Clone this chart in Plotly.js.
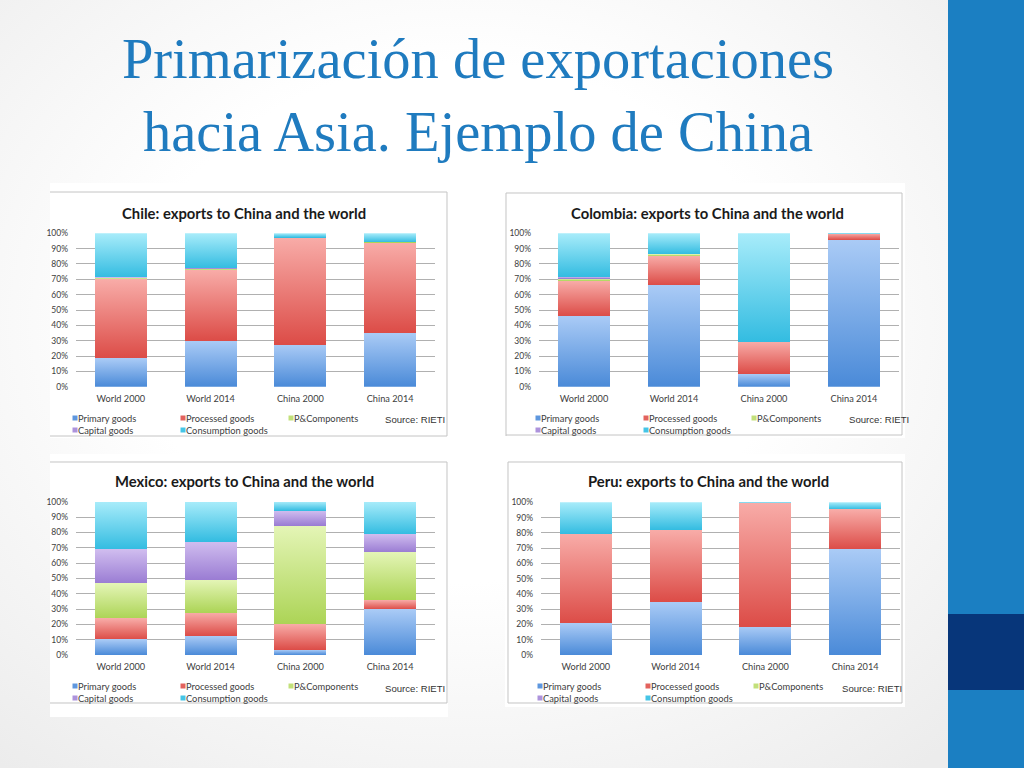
<!DOCTYPE html>
<html>
<head>
<meta charset="utf-8">
<script src="https://cdn.plot.ly/plotly-3.0.1.min.js"></script>
<style>
html,body{margin:0;padding:0;width:1024px;height:768px;overflow:hidden;}
body{background:radial-gradient(ellipse 70% 75% at 45% 42%, #ffffff 45%, #ececec 100%);}
#chart{width:1024px;height:768px;}
</style>
</head>
<body>
<div id="chart"></div>
<script>
// ---------------- DATA ----------------
const categories = ['World 2000', 'World 2014', 'China 2000', 'China 2014'];
const seriesNames = ['Primary goods', 'Processed goods', 'P&Components', 'Capital goods', 'Consumption goods'];
const yTickVals = [0, 10, 20, 30, 40, 50, 60, 70, 80, 90, 100];
const yTickLabels = ['0%', '10%', '20%', '30%', '40%', '50%', '60%', '70%', '80%', '90%', '100%'];

const chilePrimary     = [18.5, 30.0, 27.5, 35.0];
const chileProcessed   = [51.5, 46.0, 69.7, 59.0];
const chilePC          = [1.0, 1.0, 0.0, 0.3];
const chileCapital     = [0.2, 0.2, 0.0, 0.0];
const chileConsumption = [28.8, 22.8, 2.8, 5.7];

const colombiaPrimary     = [46.0, 66.3, 8.3, 95.7];
const colombiaProcessed   = [23.0, 19.0, 21.0, 4.1];
const colombiaPC          = [1.5, 1.0, 0.0, 0.0];
const colombiaCapital     = [1.0, 0.2, 0.0, 0.0];
const colombiaConsumption = [28.5, 13.5, 70.7, 0.2];

const mexicoPrimary     = [10.2, 12.4, 3.3, 29.8];
const mexicoProcessed   = [13.7, 15.2, 16.9, 6.1];
const mexicoPC          = [22.8, 21.3, 64.1, 31.1];
const mexicoCapital     = [22.2, 25.0, 9.8, 11.9];
const mexicoConsumption = [31.1, 26.1, 5.9, 21.1];

const peruPrimary     = [20.7, 34.9, 18.6, 69.2];
const peruProcessed   = [58.6, 46.8, 81.2, 26.2];
const peruPC          = [0.0, 0.2, 0.0, 0.0];
const peruCapital     = [0.0, 0.0, 0.0, 0.0];
const peruConsumption = [20.7, 18.1, 0.2, 4.6];

// ---------------- STYLE / LAYOUT ----------------
const W = 1024, H = 768;
const fx = p => p / W;
const fy = p => 1 - p / H;

const seriesColors = ['#5e97de', '#e3625d', '#c2e07a', '#ad93dc', '#45c5e6'];
const gradTop      = ['#aacbf6', '#f8aca8', '#e4f5b6', '#d0bdef', '#a8ecfa'];
const gradBottom   = ['#4a8ad8', '#dc4c47', '#acd456', '#9a7cd3', '#33bce1'];

const panels = [
  {title: 'Chile: exports to China and the world', data: [chilePrimary, chileProcessed, chilePC, chileCapital, chileConsumption],
   xd: [76, 435], yd: [233.3, 386.7], titleX: 244, titleY: 213, legX: 76, legY: [418, 430], srcX: 383, srcY: 419,
   box: [50, 183, 448, 438], border: 'M50,192 H447 V436 H50'},
  {title: 'Colombia: exports to China and the world', data: [colombiaPrimary, colombiaProcessed, colombiaPC, colombiaCapital, colombiaConsumption],
   xd: [539, 899], yd: [233.3, 386.7], titleX: 707, titleY: 213, legX: 539, legY: [418, 430], srcX: 847, srcY: 419,
   box: [505, 183, 905, 438], border: 'M506,436 V193 H902 V435 H506'},
  {title: 'Mexico: exports to China and the world', data: [mexicoPrimary, mexicoProcessed, mexicoPC, mexicoCapital, mexicoConsumption],
   xd: [76, 435], yd: [501.7, 655], titleX: 244, titleY: 481, legX: 76, legY: [686, 698], srcX: 383, srcY: 688,
   box: [50, 454, 448, 717], border: 'M50,462 H447 V703 H50'},
  {title: 'Peru: exports to China and the world', data: [peruPrimary, peruProcessed, peruPC, peruCapital, peruConsumption],
   xd: [541, 900], yd: [502.3, 655], titleX: 708, titleY: 481, legX: 541, legY: [686, 698], srcX: 840, srcY: 688,
   box: [505, 454, 905, 707], border: 'M508,703 V462 H902 V703 H508'}
];

const labelFamily = 'Lato, "Open Sans", sans-serif';

function toPaperPath(d) {
  return d.replace(/([MHVL])\s*([\d.]+)(?:,([\d.]+))?/g, (m, c, a, b) => {
    if (c === 'H') return 'H' + fx(+a).toFixed(5);
    if (c === 'V') return 'V' + fy(+a).toFixed(5);
    return c + fx(+a).toFixed(5) + ',' + fy(+b).toFixed(5);
  });
}

const traces = [];
const layout = {
  width: W, height: H, autosize: false,
  margin: {l: 0, r: 0, t: 0, b: 0, pad: 0},
  paper_bgcolor: 'rgba(0,0,0,0)',
  plot_bgcolor: 'rgba(0,0,0,0)',
  barmode: 'stack',
  bargap: 0.42,
  showlegend: true,
  title: {
    text: 'Primarización de exportaciones<br>hacia Asia. Ejemplo de China',
    font: {family: '"Liberation Serif", serif', size: 56.5, color: '#1f7bbf'},
    x: fx(478), xanchor: 'center', xref: 'container',
    y: fy(78), yanchor: 'top', yref: 'container'
  },
  shapes: [],
  annotations: []
};

// sidebar
layout.shapes.push({type: 'rect', xref: 'paper', yref: 'paper', x0: fx(948), x1: 1, y0: 0, y1: 1,
  fillcolor: '#1b7fc2', line: {width: 0}, layer: 'below'});
layout.shapes.push({type: 'rect', xref: 'paper', yref: 'paper', x0: fx(948), x1: 1, y0: fy(690), y1: fy(614),
  fillcolor: '#07367a', line: {width: 0}, layer: 'below'});

panels.forEach((p, i) => {
  const n = i === 0 ? '' : String(i + 1);
  const xa = 'x' + n, ya = 'y' + n;
  const leg1 = 'legend' + (i === 0 ? '' : String(2 * i + 1));
  const leg2 = 'legend' + String(2 * i + 2);

  layout.shapes.push({type: 'rect', xref: 'paper', yref: 'paper', x0: fx(p.box[0]), x1: fx(p.box[2]),
    y0: fy(p.box[3]), y1: fy(p.box[1]), fillcolor: '#ffffff', line: {width: 0}, layer: 'below'});
  layout.shapes.push({type: 'path', xref: 'paper', yref: 'paper', path: toPaperPath(p.border),
    line: {color: '#c4c4c4', width: 1}, layer: 'below'});

  p.data.forEach((vals, s) => {
    traces.push({
      type: 'bar', name: seriesNames[s], x: categories, y: vals,
      xaxis: xa, yaxis: ya,
      marker: {color: seriesColors[s], line: {width: 0}},
      legend: s < 3 ? leg1 : leg2,
      hoverinfo: 'x+y+name'
    });
  });

  layout['xaxis' + n] = {
    domain: [fx(p.xd[0]), fx(p.xd[1])], anchor: ya, type: 'category',
    showgrid: false, zeroline: false, showline: false, ticks: '',
    tickfont: {family: labelFamily, size: 9.2, color: '#404040'},
    ticklabelstandoff: 5, fixedrange: true
  };
  layout['yaxis' + n] = {
    domain: [fy(p.yd[1]), fy(p.yd[0])], anchor: xa, range: [0, 100],
    tickmode: 'array', tickvals: yTickVals, ticktext: yTickLabels,
    showgrid: true, gridcolor: '#b0b0b0', gridwidth: 1,
    zeroline: false, showline: false, ticks: '',
    tickfont: {family: labelFamily, size: 8.5, color: '#404040'},
    ticklabelstandoff: 7, fixedrange: true
  };

  const legCommon = {orientation: 'h', xref: 'paper', yref: 'paper', xanchor: 'left', yanchor: 'middle',
    bgcolor: 'rgba(0,0,0,0)', borderwidth: 0, itemwidth: 30, entrywidth: 63, entrywidthmode: 'pixels',
    font: {family: labelFamily, size: 9.3, color: '#404040'},
    itemclick: false, itemdoubleclick: false, traceorder: 'normal'};
  layout[leg1] = Object.assign({}, legCommon, {x: fx(p.legX - 38), y: fy(p.legY[0])});
  layout[leg2] = Object.assign({}, legCommon, {x: fx(p.legX - 38), y: fy(p.legY[1])});

  layout.annotations.push({text: '<b>' + p.title + '</b>', xref: 'paper', yref: 'paper',
    x: fx(p.titleX), y: fy(p.titleY), xanchor: 'center', yanchor: 'middle', showarrow: false,
    font: {family: labelFamily, size: 14.8, color: '#1a1a1a'}});
  layout.annotations.push({text: 'Source: RIETI', xref: 'paper', yref: 'paper',
    x: fx(p.srcX), y: fy(p.srcY), xanchor: 'left', yanchor: 'middle', showarrow: false,
    font: {family: '"Liberation Sans", Arial, sans-serif', size: 9.6, color: '#333333'}});
});

function norm(c) { return c.replace(/\s+/g, '').toLowerCase(); }
function hexToRgb(h) {
  const v = parseInt(h.slice(1), 16);
  return 'rgb(' + ((v >> 16) & 255) + ',' + ((v >> 8) & 255) + ',' + (v & 255) + ')';
}

function applyStyles(gd) {
  const svg = gd.querySelector('svg.main-svg');
  let defs = svg.querySelector('defs');
  if (!defs) { defs = document.createElementNS('http://www.w3.org/2000/svg', 'defs'); svg.insertBefore(defs, svg.firstChild); }
  seriesColors.forEach((c, s) => {
    const id = 'excelgrad' + s;
    if (!defs.querySelector('#' + id)) {
      const g = document.createElementNS('http://www.w3.org/2000/svg', 'linearGradient');
      g.setAttribute('id', id);
      g.setAttribute('x1', '0'); g.setAttribute('y1', '0'); g.setAttribute('x2', '0'); g.setAttribute('y2', '1');
      const st1 = document.createElementNS('http://www.w3.org/2000/svg', 'stop');
      st1.setAttribute('offset', '0'); st1.setAttribute('stop-color', gradTop[s]);
      const st2 = document.createElementNS('http://www.w3.org/2000/svg', 'stop');
      st2.setAttribute('offset', '1'); st2.setAttribute('stop-color', gradBottom[s]);
      g.appendChild(st1); g.appendChild(st2); defs.appendChild(g);
    }
  });
  const map = {};
  seriesColors.forEach((c, s) => { map[norm(hexToRgb(c))] = s; });
  gd.querySelectorAll('.cartesianlayer .trace.bars .point path').forEach(path => {
    const f = norm(path.style.fill || '');
    if (f in map) path.style.fill = 'url(#excelgrad' + map[f] + ')';
  });
  // small legend squares close to their text
  gd.querySelectorAll('.legendpoints path').forEach(path => {
    path.setAttribute('d', 'M19.5,2.5H14.5V-2.5H19.5Z');
  });
  // let long legend texts show fully
  gd.querySelectorAll('.infolayer .scrollbox').forEach(el => el.removeAttribute('clip-path'));
}

const gd = document.getElementById('chart');
Plotly.newPlot(gd, traces, layout, {staticPlot: true, displayModeBar: false}).then(() => {
  applyStyles(gd);
  gd.on && gd.on('plotly_afterplot', () => applyStyles(gd));
});
</script>
</body>
</html>
